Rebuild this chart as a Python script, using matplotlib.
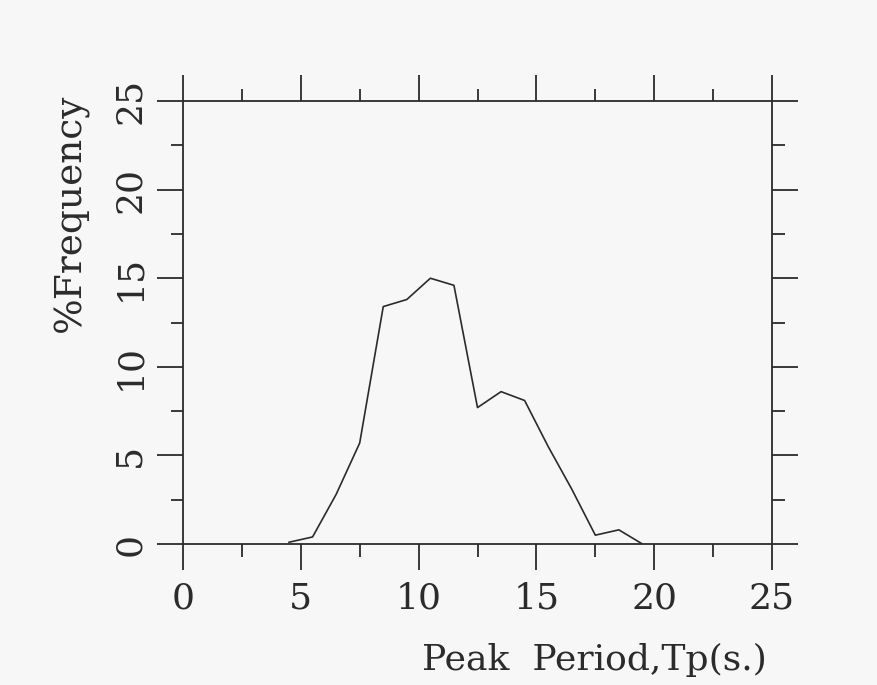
import numpy as np
import matplotlib
matplotlib.use('Agg')
import matplotlib.pyplot as plt
from matplotlib.ticker import MultipleLocator

# peak period bins (s) and percent occurrence
period = [4.5, 5.5, 6.5, 7.5, 8.5, 9.5, 10.5, 11.5, 12.5, 13.5, 14.5, 15.5, 16.5, 17.5, 18.5, 19.5]
freq = [0.1, 0.4, 2.8, 5.7, 13.4, 13.8, 15.0, 14.6, 7.7, 8.6, 8.1, 5.5, 3.1, 0.5, 0.8, 0.0]

ink = '#2b2b2b'
bg = '#f7f7f7'
font = 'DejaVu Serif'

fig = plt.figure(figsize=(8.78, 6.85), dpi=100, facecolor=bg)
ax = fig.add_axes([0.2084, 0.2058, 0.6709, 0.6467], facecolor=bg)

ax.plot(period, freq, color=ink, lw=1.2)

ax.set_xlim(0, 25)
ax.set_ylim(0, 25)
ax.xaxis.set_major_locator(MultipleLocator(5))
ax.xaxis.set_minor_locator(MultipleLocator(2.5))
ax.yaxis.set_major_locator(MultipleLocator(5))
ax.yaxis.set_minor_locator(MultipleLocator(2.5))

for s in ax.spines.values():
    s.set_color(ink)
    s.set_linewidth(1.3)

ax.tick_params(which='both', direction='out', color=ink, width=1.3,
               top=True, right=True, labeltop=False, labelright=False)
ax.tick_params(which='major', length=19)
ax.tick_params(which='minor', length=9)
ax.tick_params(axis='x', which='major', pad=8, labelsize=26, labelcolor=ink)
ax.tick_params(axis='y', which='major', pad=7, labelsize=26, labelcolor=ink)

for lab in ax.get_xticklabels():
    lab.set_family(font)
for lab in ax.get_yticklabels():
    lab.set_family(font)
    lab.set_rotation(90)
    lab.set_va('center')

fig.text(0.081, 0.689, '%Frequency', rotation=90, ha='center', va='center',
         fontsize=27, family=font, color=ink)
fig.text(0.874, 0.022, 'Peak  Period,Tp(s.)', ha='right', va='baseline',
         fontsize=26, family=font, color=ink)

fig.savefig('out.png', dpi=100, facecolor=bg)
